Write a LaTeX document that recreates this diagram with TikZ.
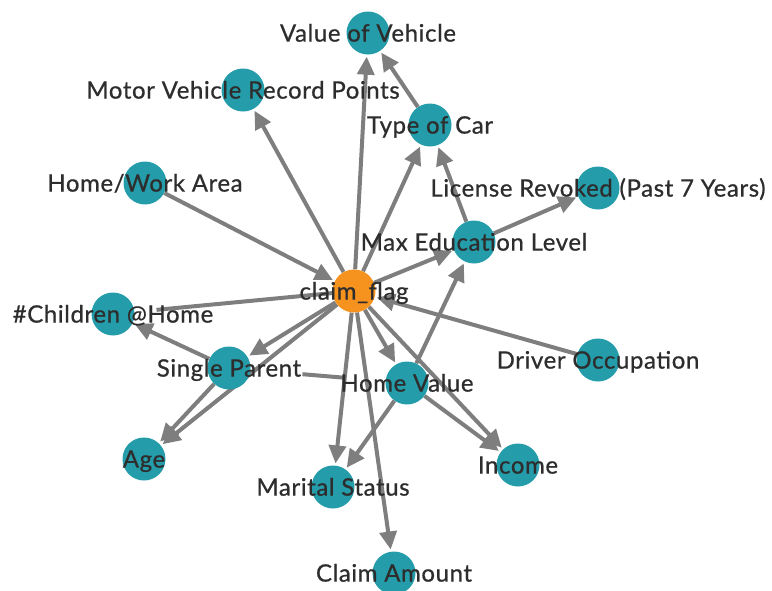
\documentclass[tikz,border=0pt]{standalone}
\usepackage{fontspec}
\setmainfont{Lato}[LetterSpace=2.5,FakeBold=0.7]
\usetikzlibrary{arrows.meta}
\definecolor{nodeteal}{RGB}{36,156,170}
\definecolor{nodeorange}{RGB}{246,146,30}
\definecolor{edgegray}{RGB}{126,126,126}
\definecolor{labeltext}{RGB}{45,45,45}
\pgfdeclarelayer{edges}
\pgfdeclarelayer{fg}
\pgfsetlayers{edges,main,fg}
\tikzset{
  circ/.style={circle,minimum size=43pt,inner sep=0pt,draw=none},
  lbl/.style={font=\fontsize{24}{28}\selectfont,text=labeltext,inner sep=0pt,text height=17.2pt,text depth=0pt},
  edge/.style={draw=edgegray,line width=4pt,-{Triangle[length=18pt,width=17pt]},shorten >=2pt},
  plainedge/.style={draw=edgegray,line width=4pt},
}
\newcommand\vnode[5]{%
  \node[circ,fill=#5] (#1) at (#2,#3) {};
  \begin{pgfonlayer}{fg}
    \node[lbl] (#1-l) at (#1) {#4};
  \end{pgfonlayer}
}
\begin{document}
\begin{tikzpicture}[x=1pt,y=-1pt]
\useasboundingbox (0,0) rectangle (772,590);
\vnode{vov}{368}{33}{Value of Vehicle}{nodeteal}
\vnode{mvrp}{243}{90}{Motor Vehicle Record Points}{nodeteal}
\vnode{toc}{430}{125}{Type of Car}{nodeteal}
\vnode{hwa}{145}{183}{Home/Work Area}{nodeteal}
\vnode{lic}{598}{188}{License Revoked (Past 7 Years)}{nodeteal}
\vnode{med}{474}{242}{Max Education Level}{nodeteal}
\vnode{cf}{354}{291}{claim\_flag}{nodeorange}
\vnode{chi}{113}{314}{\#Children @Home}{nodeteal}
\vnode{do}{598}{360}{Driver Occupation}{nodeteal}
\vnode{sp}{229}{368}{Single Parent}{nodeteal}
\vnode{hv}{407}{383}{Home Value}{nodeteal}
\vnode{age}{144}{459}{Age}{nodeteal}
\vnode{mar}{333}{487}{Marital Status}{nodeteal}
\vnode{inc}{518}{465}{Income}{nodeteal}
\vnode{ca}{394}{573}{Claim Amount}{nodeteal}
\begin{pgfonlayer}{edges}
\draw[edge] (cf) -- (vov);
\draw[edge] (cf) -- (mvrp);
\draw[edge] (cf) -- (toc);
\draw[edge] (toc) -- (vov);
\draw[edge] (med) -- (toc);
\draw[edge] (med) -- (lic);
\draw[edge] (cf) -- (med);
\draw[edge] (hwa) -- (cf);
\draw[plainedge,shorten >=22pt] (cf) -- (chi);
\draw[edge] (sp) -- (chi);
\draw[edge] (cf) -- (sp);
\draw[edge] (cf) -- (age);
\draw[edge] (sp) -- (age);
\draw[plainedge,shorten <=52pt,shorten >=40pt] (sp) -- (hv);
\draw[edge] (cf) -- (hv);
\draw[edge] (hv) -- (med);
\draw[edge] (cf) -- (inc);
\draw[edge] (hv) -- (inc);
\draw[edge] (cf) -- (mar);
\draw[edge] (hv) -- (mar);
\draw[edge] (cf) -- (ca);
\draw[edge] (do) -- (cf);
\end{pgfonlayer}
\end{tikzpicture}
\end{document}
